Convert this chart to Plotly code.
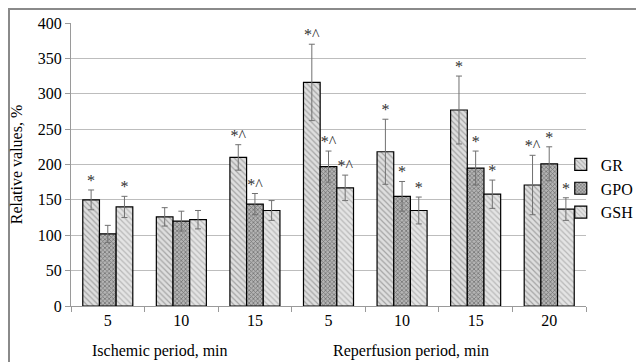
import plotly.graph_objects as go

categories = ["I5", "I10", "I15", "R5", "R10", "R15", "R20"]
tick_labels = ["5", "10", "15", "5", "10", "15", "20"]

gr = [150, 126, 210, 316, 218, 277, 171]
gr_err = [14, 13, 18, 54, 46, 48, 42]
gr_marks = ["*", "", "*^", "*^", "*", "*", "*^"]

gpo = [102, 120, 144, 197, 155, 195, 201]
gpo_err = [12, 14, 15, 22, 21, 24, 24]
gpo_marks = ["", "", "*^", "*^", "*", "*", "*"]

gsh = [140, 122, 135, 167, 135, 158, 137]
gsh_err = [15, 13, 14, 18, 19, 20, 16]
gsh_marks = ["*", "", "", "*^", "*", "*", "*"]

FONT = "Times New Roman, Liberation Serif, serif"

series = [
    ("GR", gr, gr_err, gr_marks, dict(shape="\\", bgcolor="#dedede", fgcolor="#6a6a6a", size=4, solidity=0.3)),
    ("GPO", gpo, gpo_err, gpo_marks, dict(shape="x", bgcolor="#b4b4b4", fgcolor="#353535", size=3, solidity=0.45)),
    ("GSH", gsh, gsh_err, gsh_marks, dict(shape="\\", bgcolor="#e4e4e4", fgcolor="#8c8c8c", size=4, solidity=0.3)),
]

fig = go.Figure()
for name, vals, errs, marks, pat in series:
    fig.add_trace(go.Bar(
        x=categories, y=vals, name=name,
        offsetgroup=name, alignmentgroup="a",
        marker=dict(color=pat["bgcolor"], pattern=pat, line=dict(color="#000000", width=1.2)),
        error_y=dict(type="data", array=errs, visible=True, color="#707070", thickness=1, width=3),
    ))
for name, vals, errs, marks, pat in series:
    fig.add_trace(go.Scatter(
        x=categories, y=[v + e for v, e in zip(vals, errs)],
        offsetgroup=name, alignmentgroup="a",
        mode="text", text=marks, textposition="top center",
        textfont=dict(family=FONT, size=16, color="#303030"),
        showlegend=False, hoverinfo="skip",
    ))

fig.update_layout(
    width=644, height=362,
    margin=dict(l=63, r=66, t=15, b=64, autoexpand=False),
    paper_bgcolor="white", plot_bgcolor="white",
    barmode="group", bargap=0.32, bargroupgap=0,
    scattermode="group", scattergap=0.32,
    font=dict(family=FONT, size=16, color="#000000"),
    legend=dict(x=0.951, xanchor="left", y=0.415, yanchor="middle",
                font=dict(family=FONT, size=16, color="black"), itemwidth=30,
                bgcolor="rgba(0,0,0,0)", tracegroupgap=0),
    xaxis=dict(
        type="category", tickmode="array", tickvals=categories, ticktext=tick_labels,
        tickson="boundaries", ticks="outside", ticklen=5, tickcolor="#9a9a9a",
        showline=True, linecolor="#9a9a9a", linewidth=1, automargin=False,
        showgrid=False, tickfont=dict(family=FONT, size=16, color="black"),
    ),
    yaxis=dict(
        range=[0, 400], dtick=50, tickfont=dict(family=FONT, size=16, color="black"),
        showgrid=True, gridcolor="#bdbdbd", gridwidth=1, automargin=False,
        showline=True, linecolor="#9a9a9a", ticks="outside", ticklen=5, tickcolor="#9a9a9a",
        zeroline=False,
        title=dict(text="Relative values, %", font=dict(family=FONT, size=16, color="black"), standoff=12),
    ),
    shapes=[dict(type="rect", xref="paper", yref="paper",
                 x0=-0.1204, x1=1.2, y0=-0.3, y1=1.0495,
                 line=dict(color="#8a8a8a", width=2), fillcolor="rgba(0,0,0,0)", layer="below")],
    annotations=[
        dict(text="Ischemic period, min", xref="paper", yref="paper", x=0.173, y=-0.159,
             showarrow=False, font=dict(family=FONT, size=16, color="black"), xanchor="center", yanchor="middle"),
        dict(text="Reperfusion period, min", xref="paper", yref="paper", x=0.660, y=-0.159,
             showarrow=False, font=dict(family=FONT, size=16, color="black"), xanchor="center", yanchor="middle"),
    ],
)

fig.write_html("out.html")
